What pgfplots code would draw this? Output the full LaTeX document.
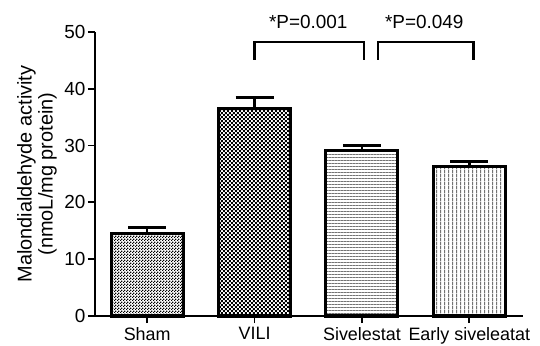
\documentclass[border=0pt]{standalone}
\usepackage{fontspec}
\setmainfont{Liberation Sans}
\usepackage{pgfplots}
\pgfplotsset{compat=1.18}
\usetikzlibrary{patterns}

\pgfdeclarepatternformonly{finecheck}{\pgfpointorigin}{\pgfpoint{3bp}{3bp}}{\pgfpoint{3bp}{3bp}}{%
  \pgfpathrectangle{\pgfpointorigin}{\pgfpoint{1.5bp}{1.5bp}}%
  \pgfpathrectangle{\pgfpoint{1.5bp}{1.5bp}}{\pgfpoint{1.5bp}{1.5bp}}%
  \pgfusepath{fill}}
\pgfdeclarepatternformonly{coarsecheck}{\pgfpointorigin}{\pgfpoint{4.4bp}{4.4bp}}{\pgfpoint{4.4bp}{4.4bp}}{%
  \pgfpathrectangle{\pgfpointorigin}{\pgfpoint{2.2bp}{2.2bp}}%
  \pgfpathrectangle{\pgfpoint{2.2bp}{2.2bp}}{\pgfpoint{2.2bp}{2.2bp}}%
  \pgfusepath{fill}}
\pgfdeclarepatternformonly{hlines}{\pgfpointorigin}{\pgfpoint{3.3bp}{3.3bp}}{\pgfpoint{3.3bp}{3.3bp}}{%
  \pgfpathrectangle{\pgfpointorigin}{\pgfpoint{3.3bp}{1.1bp}}%
  \pgfusepath{fill}}
\pgfdeclarepatternformonly{vlines}{\pgfpointorigin}{\pgfpoint{3.7bp}{3.7bp}}{\pgfpoint{3.7bp}{3.7bp}}{%
  \pgfpathrectangle{\pgfpointorigin}{\pgfpoint{1.2bp}{3.7bp}}%
  \pgfusepath{fill}}

\begin{document}
\begin{tikzpicture}
\begin{axis}[
  scale only axis, width=428bp, height=284bp,
  xmin=-0.486, xmax=3.5, ymin=0, ymax=50,
  axis lines*=left,
  axis line style={line width=2bp, black},
  ytick={0,10,20,30,40,50},
  xtick={0,1,2,3},
  xticklabels={Sham, VILI, Sivelestat, Early siveleatat},
  tick align=outside,
  major tick length=7bp,
  tick style={line width=1.8bp, black},
  font=\fontsize{19}{22}\selectfont,
  yticklabel style={font=\fontsize{19}{22}\selectfont, xshift=1bp},
  xticklabel style={font=\fontsize{18}{22}\selectfont, yshift=-1bp},
  /pgf/number format/assume math mode=true,
  ylabel={Malondialdehyde activity\\(nmoL/mg protein)},
  every axis y label/.style={at={(rel axis cs:0,0.5)}, xshift=-58bp, rotate=90, anchor=center,
    align=center, font=\fontsize{20}{21}\selectfont},
  clip=false,
]
\addplot[ybar, bar width=72bp, bar shift=0pt, draw=black, line width=3bp, pattern=finecheck, pattern color=black,
  error bars/.cd, y dir=plus, y explicit,
  error bar style={line width=2.5bp, black},
  error mark options={rotate=90, mark size=19bp, line width=3bp, black}]
  coordinates {(0,14.6) +- (0,0.9)};
\addplot[ybar, bar width=72bp, bar shift=0pt, draw=black, line width=3bp, pattern=coarsecheck, pattern color=black,
  error bars/.cd, y dir=plus, y explicit,
  error bar style={line width=2.5bp, black},
  error mark options={rotate=90, mark size=19bp, line width=3bp, black}]
  coordinates {(1,36.6) +- (0,1.8)};
\addplot[ybar, bar width=72bp, bar shift=0pt, draw=black, line width=3bp, pattern=hlines, pattern color=black!55,
  error bars/.cd, y dir=plus, y explicit,
  error bar style={line width=2.5bp, black},
  error mark options={rotate=90, mark size=19bp, line width=3bp, black}]
  coordinates {(2,29.2) +- (0,0.9)};
\addplot[ybar, bar width=72bp, bar shift=0pt, draw=black, line width=3bp, pattern=vlines, pattern color=black!55,
  error bars/.cd, y dir=plus, y explicit,
  error bar style={line width=2.5bp, black},
  error mark options={rotate=90, mark size=19bp, line width=3bp, black}]
  coordinates {(3,26.4) +- (0,0.8)};
\addplot[sharp plot, mark=none, line width=2.5bp, black] coordinates {(1.0,45.1) (1.0,48.2) (2.02,48.2) (2.02,45.1)};
\addplot[sharp plot, mark=none, line width=2.5bp, black] coordinates {(2.15,45.1) (2.15,48.2) (3.04,48.2) (3.04,45.1)};
\node[font=\fontsize{19}{22}\selectfont] at (axis cs:1.50,51.8) {*P=0.001};
\node[font=\fontsize{19}{22}\selectfont] at (axis cs:2.58,51.8) {*P=0.049};
\end{axis}
\pgfresetboundingbox
\path[use as bounding box] ([shift={(-95bp,-30bp)}]current axis.south west) rectangle ([shift={(17bp,32bp)}]current axis.north east);
\end{tikzpicture}
\end{document}
